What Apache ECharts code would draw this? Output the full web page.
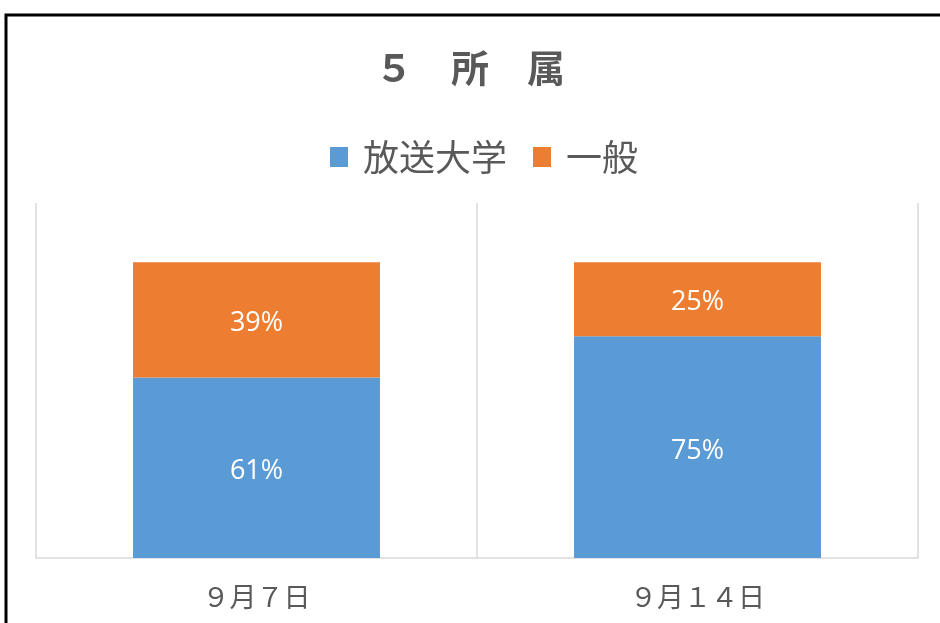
<!DOCTYPE html>
<html>
<head>
<meta charset="utf-8">
<script src="https://cdn.jsdelivr.net/npm/echarts@6/dist/echarts.min.js"></script>
<style>
  html, body { margin: 0; padding: 0; background: #fff; }
  #chart { width: 940px; height: 623px; }
</style>
</head>
<body>
<div id="chart"></div>
<script>
// 日付ごとの所属割合 (%)
var categories = ["９月７日", "９月１４日"];
var seriesNames = ["放送大学", "一般"];
var univValues = [61, 75];
var generalValues = [39, 25];

var jpFont = "'Noto Sans CJK JP', sans-serif";
var gray = "#595959";

var myChart = echarts.init(document.getElementById("chart"));
var option = {
  animation: false,
  backgroundColor: "#fff",
  title: {
    text: "５　所　属",
    left: "center",
    top: 44,
    textStyle: { fontFamily: jpFont, fontSize: 38, fontWeight: "bold", color: gray }
  },
  legend: {
    top: 134,
    left: 325,
    itemWidth: 18,
    itemHeight: 20,
    itemGap: 26,
    icon: "rect",
    textStyle: { fontFamily: jpFont, fontSize: 36, color: gray, padding: [0, 0, 0, 10] },
    data: seriesNames
  },
  grid: { left: 36, right: 22, top: 203, bottom: 65 },
  xAxis: {
    type: "category",
    data: categories,
    axisLine: { lineStyle: { color: "#d9d9d9", width: 1.5 } },
    axisTick: { show: false },
    axisLabel: { fontFamily: jpFont, fontSize: 27, color: gray, margin: 25 },
    splitLine: { show: true, lineStyle: { color: "#d9d9d9", width: 1.5 } }
  },
  yAxis: {
    type: "value",
    min: 0,
    max: 120,
    interval: 20,
    show: false,
    splitLine: { show: false }
  },
  // 枠線
  graphic: [{
    type: "rect",
    shape: { x: 6, y: 15, width: 1000, height: 1000 },
    style: { fill: null, stroke: "#000", lineWidth: 3 },
    silent: true
  }],
  series: [
    {
      name: seriesNames[0],
      type: "bar",
      stack: "total",
      barWidth: "56%",
      itemStyle: { color: "#5B9BD5" },
      label: {
        show: true, position: "inside", formatter: "{c}%", offset: [0, 4],
        color: "#fff", fontSize: 27, fontFamily: "'Open Sans', sans-serif"
      },
      data: univValues
    },
    {
      name: seriesNames[1],
      type: "bar",
      stack: "total",
      itemStyle: { color: "#ED7D31" },
      label: {
        show: true, position: "inside", formatter: "{c}%", offset: [0, 3],
        color: "#fff", fontSize: 27, fontFamily: "'Open Sans', sans-serif"
      },
      data: generalValues
    }
  ]
};
myChart.setOption(option);
</script>
</body>
</html>
